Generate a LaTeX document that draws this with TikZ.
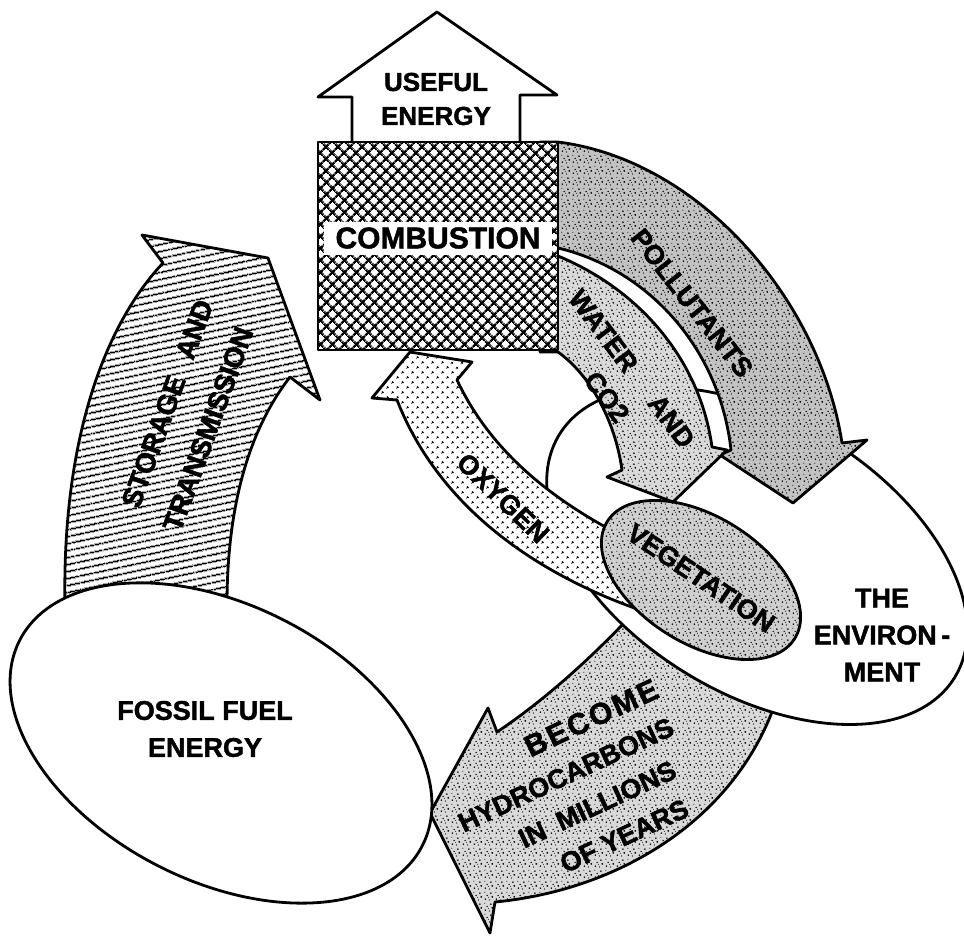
\documentclass[tikz,border=0pt]{standalone}
\usepackage{fontspec}
\setmainfont{Liberation Sans}[BoldFeatures={FakeBold=1.6}]
\usetikzlibrary{positioning,shapes.geometric,patterns.meta}

% textures of the drawing
\tikzdeclarepattern{
  name=mesh,
  type=uncolored,
  bottom left={(0pt,0pt)},
  top right={(8.3pt,8.3pt)},
  tile size={(8.3pt,8.3pt)},
  tile transformation={rotate=45},
  code={
    \draw[line width=2.5pt] (0pt,4.15pt) -- (8.3pt,4.15pt) (4.15pt,0pt) -- (4.15pt,8.3pt);
  }
}
\tikzdeclarepattern{
  name=halftone,
  type=uncolored,
  bottom left={(0pt,0pt)},
  top right={(7.4pt,7.4pt)},
  tile size={(7.4pt,7.4pt)},
  tile transformation={rotate=45},
  code={
    \fill (3.7pt,3.7pt) circle (1.5pt);
  }
}
\tikzdeclarepattern{
  name=hatch,
  type=uncolored,
  bottom left={(0pt,0pt)},
  top right={(14pt,7.4pt)},
  tile size={(14pt,7.4pt)},
  tile transformation={rotate=12},
  code={
    \draw[line width=1.8pt] (0pt,3.7pt) -- (14pt,3.7pt);
  }
}
\tikzdeclarepattern{
  name=speckle,
  type=uncolored,
  bottom left={(0pt,0pt)},
  top right={(11pt,11pt)},
  tile size={(11pt,11pt)},
  code={
    \fill (1.5pt,2pt) circle (0.9pt) (6pt,1pt) circle (0.7pt) (9pt,4.5pt) circle (1pt)
          (3.5pt,6pt) circle (0.8pt) (7.5pt,8.5pt) circle (1pt) (1pt,9.5pt) circle (0.6pt)
          (5pt,4pt) circle (0.5pt);
  }
}

\tikzset{
    outline/.style={draw=black, line width=2.8pt, line join=round},
    blob/.style={ellipse, outline, fill=white, inner sep=0pt},
    wordtext/.style={font=\bfseries\fontsize{27}{37}\selectfont, align=center, inner sep=1pt},
    meshfill/.style={preaction={fill=white}, pattern=mesh, pattern color=black},
    hatchfill/.style={preaction={fill=white}, pattern=hatch, pattern color=black},
    dotfill/.style={preaction={fill=white}, pattern=halftone, pattern color=black},
    roughfill/.style={preaction={fill=gray!48}, pattern=speckle, pattern color=black},
    finefill/.style={preaction={fill=gray!30}, pattern=speckle, pattern color=black},
    vegfill/.style={preaction={fill=gray!38}, pattern=speckle, pattern color=black}
}

\begin{document}
\begin{tikzpicture}[x=1pt, y=-1pt]
    \useasboundingbox (0,0) rectangle (964,945);

    % hydrocarbons, under the environment
    \draw[outline, finefill] (700,640) -- (640,606) .. controls (595,655) and (545,700) .. (497,732)
        -- (488,708) -- (430,813) -- (490,933) -- (495,902)
        .. controls (620,890) and (730,820) .. (772,712) -- (760,650) -- cycle;

    % storage and transmission
    \draw[outline, hatchfill] (65,605) .. controls (62,450) and (100,330) .. (163,263)
        -- (142,235) -- (268,258) -- (320,400) -- (290,377)
        .. controls (245,435) and (227,515) .. (227,605) -- cycle;

    % the two big ellipses
    \node[blob, minimum width=452pt, minimum height=276pt, rotate=-27] (fossil) at (221,743) {};
    \node[blob, minimum width=464pt, minimum height=274pt, rotate=-31.6] (environment) at (757,556) {};

    % pollutants
    \draw[outline, roughfill] (540,142) -- (558,142) .. controls (700,160) and (820,300) .. (842,443)
        -- (867,440) -- (793,503) -- (720,455) -- (731,450)
        .. controls (720,350) and (650,270) .. (558,248) -- (540,248) -- cycle;

    % water and co2
    \draw[outline, finefill] (540,256) -- (558,256) .. controls (640,290) and (700,360) .. (712,447)
        -- (727,450) -- (673,502) -- (607,477) -- (622,470)
        .. controls (615,420) and (590,375) .. (558,352) -- (540,352) -- cycle;

    % oxygen
    \draw[outline, dotfill] (640,610) .. controls (540,575) and (440,510) .. (397,400)
        -- (372,398) -- (410,352) -- (472,362) -- (457,380)
        .. controls (490,450) and (550,500) .. (630,540) -- cycle;

    \node[blob, vegfill, minimum width=221pt, minimum height=127pt, rotate=-32] (vegetation) at (701,580) {};

    % useful energy and combustion
    \draw[outline, fill=white] (352,150) -- (352,97) -- (318,97) -- (437,12) -- (557,95) -- (520,95) -- (520,150) -- cycle;
    \node[outline, meshfill, minimum width=240pt, minimum height=208pt, inner sep=0pt] (combustion) at (438,246) {};
    \node[wordtext, font=\bfseries\fontsize{30}{36}\selectfont, fill=white, minimum width=228pt, minimum height=33pt] (combtext) at (438,238) {COMBUSTION};

    % labels
    \node[wordtext, font=\bfseries\fontsize{26}{34}\selectfont] (usefultext) at (436,99) {USEFUL\\ENERGY};
    \node[wordtext] (fossiltext) at (205,729) {FOSSIL FUEL\\ENERGY};
    \node[wordtext] (envtext) at (882,635) {THE\\ENVIRON\,-\\MENT};
    \node[wordtext, rotate=-34] (vegtext) at (701,578) {VEGETATION};
    \node[wordtext, rotate=-52] (pollutext) at (692,303) {POLLUTANTS};
    \node[wordtext, rotate=-53] (watertext) at (617,380) {WATER\hspace{36pt}AND\\\hspace*{15pt}CO2};
    \node[wordtext, rotate=-44] (oxytext) at (503,498) {OXYGEN};
    \node[wordtext, font=\bfseries\fontsize{28}{47}\selectfont, rotate=70] (storetext) at (186,421) {\hspace*{20pt}STORAGE\hspace{20pt}AND\\TRANSMISSION};
    \node[wordtext, font=\bfseries\fontsize{27}{40}\selectfont, rotate=25] (hydrotext) at (574,792)
        {\hspace*{94pt}{\fontsize{30}{40}\selectfont\addfontfeature{LetterSpace=8}BECOME}\\HYDROCARBONS\\\hspace*{32pt}IN\hspace{14pt}MILLIONS\\\hspace*{54pt}OF YEARS};
\end{tikzpicture}
\end{document}
